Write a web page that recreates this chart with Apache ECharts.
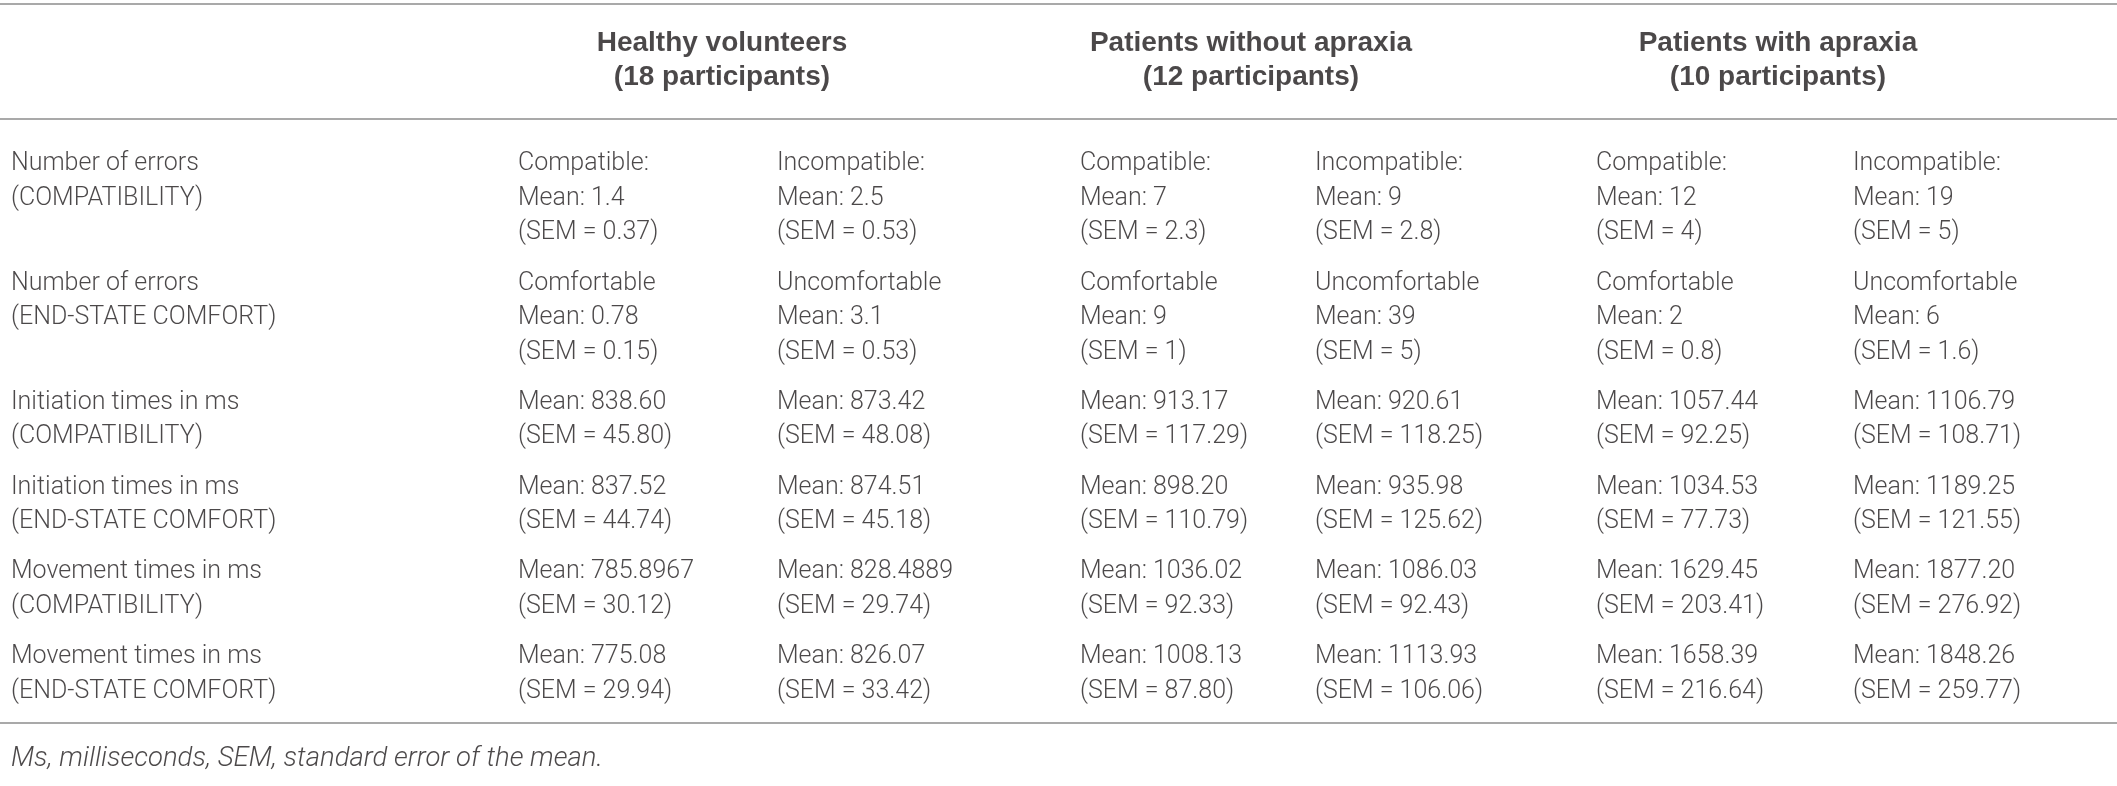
<!DOCTYPE html>
<html>
<head>
<meta charset="utf-8">
<script src="https://cdn.jsdelivr.net/npm/echarts@6/dist/echarts.min.js"></script>
<style>
  html, body { margin: 0; padding: 0; background: #fff; }
  #table { width: 2117px; height: 786px; }
</style>
</head>
<body>
<div id="table"></div>
<script>
// table content
const groups = ["Healthy volunteers", "Patients without apraxia", "Patients with apraxia"];
const groupSizes = ["(18 participants)", "(12 participants)", "(10 participants)"];
const rowLabels = [
  ["Number of errors", "(COMPATIBILITY)"],
  ["Number of errors", "(END-STATE COMFORT)"],
  ["Initiation times in ms", "(COMPATIBILITY)"],
  ["Initiation times in ms", "(END-STATE COMFORT)"],
  ["Movement times in ms", "(COMPATIBILITY)"],
  ["Movement times in ms", "(END-STATE COMFORT)"]
];
const conditions = [
  ["Compatible:", "Incompatible:"],
  ["Comfortable", "Uncomfortable"],
  null, null, null, null
];
const means = [
  ["1.4", "2.5", "7", "9", "12", "19"],
  ["0.78", "3.1", "9", "39", "2", "6"],
  ["838.60", "873.42", "913.17", "920.61", "1057.44", "1106.79"],
  ["837.52", "874.51", "898.20", "935.98", "1034.53", "1189.25"],
  ["785.8967", "828.4889", "1036.02", "1086.03", "1629.45", "1877.20"],
  ["775.08", "826.07", "1008.13", "1113.93", "1658.39", "1848.26"]
];
const sems = [
  ["0.37", "0.53", "2.3", "2.8", "4", "5"],
  ["0.15", "0.53", "1", "5", "0.8", "1.6"],
  ["45.80", "48.08", "117.29", "118.25", "92.25", "108.71"],
  ["44.74", "45.18", "110.79", "125.62", "77.73", "121.55"],
  ["30.12", "29.74", "92.33", "92.43", "203.41", "276.92"],
  ["29.94", "33.42", "87.80", "106.06", "216.64", "259.77"]
];
const footnote = "Ms, milliseconds, SEM, standard error of the mean.";

// layout (pixel units of the axes)
const W = 2117, H = 786;
const labelX = 11;
const colX = [518, 777, 1080, 1315, 1596, 1853];
const headX = [722, 1251, 1778];
const headY = [43, 77];
const ruleY = [4, 119, 723];
const firstLineY = 164, lineStep = 34.5, rowGap = 15.8;
const footY = 759;

const ink = "#1e1a1b";
const bodyFont = { fontFamily: "Roboto", fontWeight: 300, fontSize: 25, color: ink };

function cell(x, y, text, style, align) {
  return {
    value: [x, y],
    label: Object.assign({ show: true, formatter: text, align: align || "left" }, style)
  };
}

const cells = [];
groups.forEach((g, i) => {
  const hs = { fontFamily: "Liberation Sans", fontWeight: "bold", fontSize: 28, color: ink };
  cells.push(cell(headX[i], headY[0], g, hs, "center"));
  cells.push(cell(headX[i], headY[1], groupSizes[i], hs, "center"));
});

let y = firstLineY;
rowLabels.forEach((lab, r) => {
  const lines = [];
  lab.forEach((t, k) => cells.push(cell(labelX, y + k * lineStep, t, bodyFont)));
  colX.forEach((x, c) => {
    const txt = [];
    if (conditions[r]) txt.push(conditions[r][c % 2]);
    txt.push("Mean: " + means[r][c]);
    txt.push("(SEM = " + sems[r][c] + ")");
    txt.forEach((t, k) => cells.push(cell(x, y + k * lineStep, t, bodyFont)));
    lines.push(txt.length);
  });
  const n = Math.max(lab.length, ...lines);
  y += n * lineStep + rowGap;
});

cells.push(cell(labelX, footY, footnote,
  Object.assign({}, bodyFont, { fontStyle: "italic", fontSize: 27.5 })));

const chart = echarts.init(document.getElementById("table"), null, { renderer: "canvas" });
chart.setOption({
  backgroundColor: "#fff",
  animation: false,
  grid: { left: 0, right: 0, top: 0, bottom: 0 },
  xAxis: { type: "value", min: 0, max: W, show: false },
  yAxis: { type: "value", min: 0, max: H, inverse: true, show: false },
  series: [{
    type: "scatter",
    symbolSize: 0.1,
    itemStyle: { color: "transparent" },
    label: { position: [0, 0], verticalAlign: "middle" },
    data: cells,
    silent: true,
    markLine: {
      silent: true,
      symbol: "none",
      label: { show: false },
      lineStyle: { color: "#8c8c8c", width: 1.5, type: "solid" },
      data: ruleY.map(v => ({ yAxis: v }))
    }
  }]
});
</script>
</body>
</html>
